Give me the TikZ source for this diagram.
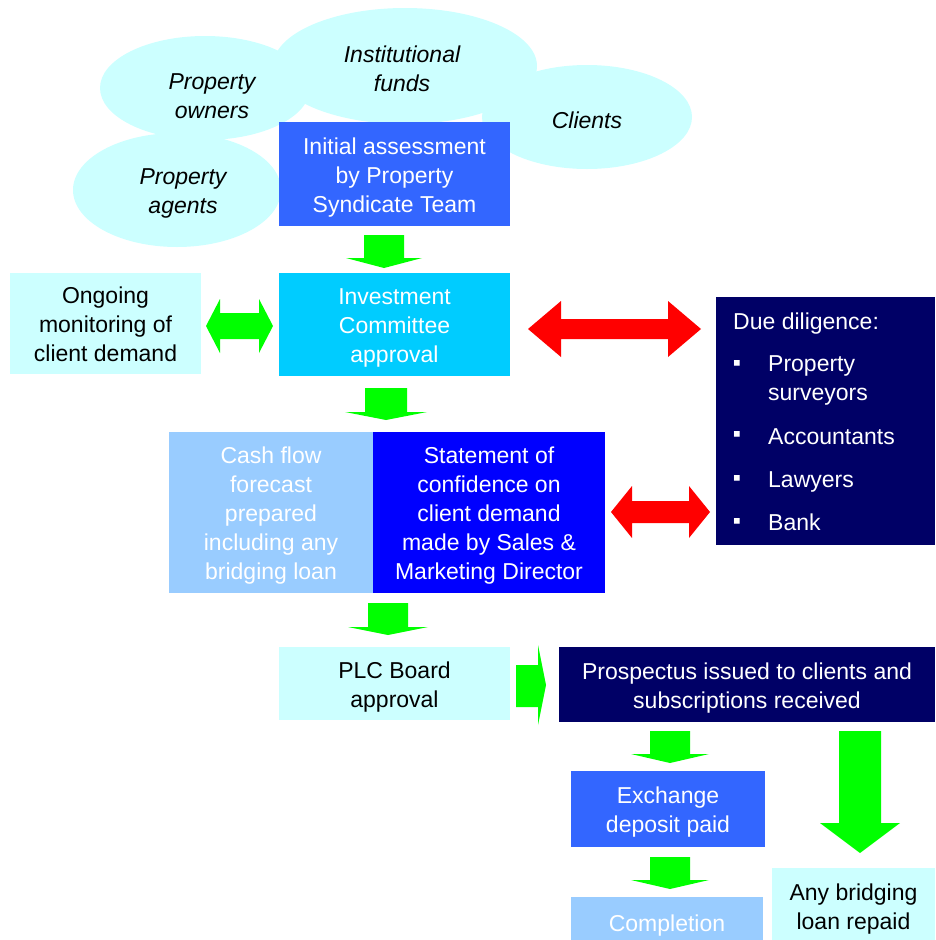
\documentclass[tikz,border=0pt]{standalone}
\usepackage{fontspec}
\setmainfont{Liberation Sans}
\definecolor{cloudc}{HTML}{CCFFFF}
\definecolor{midblue}{HTML}{3366FF}
\definecolor{skyc}{HTML}{00CCFF}
\definecolor{paleblue}{HTML}{99CCFF}
\definecolor{pureblue}{HTML}{0000FF}
\definecolor{navyc}{HTML}{000066}
\definecolor{greenc}{HTML}{00FF00}
\definecolor{redc}{HTML}{FF0000}
% down block arrow: centre x, shaft half width, head half width, top y, head start y, tip y
\newcommand\GreenDownArr[6]{\fill[greenc] ({#1-#2},#4) -- ({#1+#2},#4) -- ({#1+#2},#5) -- ({#1+#3},#5) -- (#1,#6) -- ({#1-#3},#5) -- ({#1-#2},#5) -- cycle;}
% double horizontal block arrow: colour, left tip x, right tip x, centre y, shaft half, head half, head length
\newcommand\TwoWayArr[7]{\fill[#1] (#2,#4) -- ({#2+#7},{#4-#6}) -- ({#2+#7},{#4-#5}) -- ({#3-#7},{#4-#5}) -- ({#3-#7},{#4-#6}) -- (#3,#4) -- ({#3-#7},{#4+#6}) -- ({#3-#7},{#4+#5}) -- ({#2+#7},{#4+#5}) -- ({#2+#7},{#4+#6}) -- cycle;}
\newcommand\BT{\rule{0pt}{24pt}}
\newcommand\BB{\rule[-6pt]{0pt}{6pt}}
\tikzset{
  boxnode/.style={rectangle, inner sep=0pt, align=center, font=\fontsize{23}{29}\selectfont, text=white},
  cloudtext/.style={align=center, inner sep=0pt, font=\fontsize{23}{29}\selectfont\itshape},
  ddtext/.style={anchor=base west, inner sep=0pt, text=white, font=\fontsize{23}{29}\selectfont},
  ddbullet/.style={anchor=center, inner sep=0pt, text=white, font=\fontsize{23}{29}\selectfont},
}
\begin{document}
\begin{tikzpicture}[x=1pt,y=-1pt]
\useasboundingbox (0,0) rectangle (935,940);
\fill[white] (0,0) rectangle (935,940);
% clouds
\fill[cloudc] (205,88) ellipse [x radius=105, y radius=52];
\fill[cloudc] (405,66) ellipse [x radius=132, y radius=58];
\fill[cloudc] (587,117) ellipse [x radius=105, y radius=52];
\fill[cloudc] (177,190) ellipse [x radius=104, y radius=57];
\node[cloudtext] (owners) at (212,96) {Property\\owners};
\node[cloudtext] (funds) at (402,69) {Institutional\\funds};
\node[cloudtext] (clients) at (587,120) {Clients};
\node[cloudtext] (agents) at (183,193) {Property\\agents};
% boxes
\node[boxnode, fill=midblue, minimum width=231pt, minimum height=104pt] (init) at (394.5,174) {\BT Initial assessment\\by Property\\Syndicate Team\BB};
\node[boxnode, fill=skyc, minimum width=231pt, minimum height=103pt] (invest) at (394.5,324.5) {\BT Investment\\Committee\\approval\BB};
\node[boxnode, fill=cloudc, text=black, minimum width=191pt, minimum height=101pt] (ongoing) at (105.5,323.5) {\BT Ongoing\\monitoring of\\client demand\BB};
\node[boxnode, fill=paleblue, minimum width=204pt, minimum height=161pt] (cash) at (271,512.5) {\BT Cash flow\\forecast\\prepared\\including any\\bridging loan\BB};
\node[boxnode, fill=pureblue, minimum width=232pt, minimum height=161pt] (stmt) at (489,512.5) {\BT Statement of\\confidence on\\client demand\\made by Sales \&\\Marketing Director\BB};
\node[rectangle, inner sep=0pt, fill=navyc, minimum width=219pt, minimum height=248pt] (dd) at (825.5,421) {};
\node[ddtext] (ddtitle) at (733,329) {Due diligence:};
\node[ddbullet] (b1) at (737,365) {▪};
\node[ddtext] (i1) at (768,371) {Property};
\node[ddtext] (i1b) at (768,400) {surveyors};
\node[ddbullet] (b2) at (737,436) {▪};
\node[ddtext] (i2) at (768,444) {Accountants};
\node[ddbullet] (b3) at (737,480) {▪};
\node[ddtext] (i3) at (768,487) {Lawyers};
\node[ddbullet] (b4) at (737,523) {▪};
\node[ddtext] (i4) at (768,530) {Bank};
\node[boxnode, fill=cloudc, text=black, minimum width=231pt, minimum height=73pt] (plc) at (394.5,683.5) {\BT PLC Board\\approval\BB};
\node[boxnode, fill=navyc, minimum width=376pt, minimum height=75pt] (prosp) at (747,684.5) {\BT Prospectus issued to clients and\\subscriptions received\BB};
\node[boxnode, fill=midblue, minimum width=194pt, minimum height=76pt] (exch) at (668,809) {\BT Exchange\\deposit paid\BB};
\node[boxnode, fill=paleblue, minimum width=192pt, minimum height=50pt] (compl) at (667,922) {\BT Completion\BB};
\node[boxnode, fill=cloudc, text=black, minimum width=163pt, minimum height=76pt] (repaid) at (853.5,906) {\BT Any bridging\\loan repaid\BB};
% green down arrows
\GreenDownArr{384}{20}{38}{235}{258}{268}
\GreenDownArr{386}{21}{41}{388}{412}{420}
\GreenDownArr{388}{20}{40}{603}{627}{635}
\GreenDownArr{670}{20}{39}{731}{754}{763}
\GreenDownArr{670}{20}{39}{857}{880}{889}
\GreenDownArr{860}{21}{40}{731}{823}{853}
% green right arrow
\fill[greenc] (516,665) -- (538,665) -- (538,645) -- (546,685) -- (538,725) -- (538,707) -- (516,707) -- cycle;
% two-way arrows
\TwoWayArr{greenc}{206}{273}{326}{13}{27}{14}
\TwoWayArr{redc}{528}{701}{329}{10}{28}{33}
\TwoWayArr{redc}{611}{710}{512}{11}{26}{21}
\end{tikzpicture}
\end{document}
